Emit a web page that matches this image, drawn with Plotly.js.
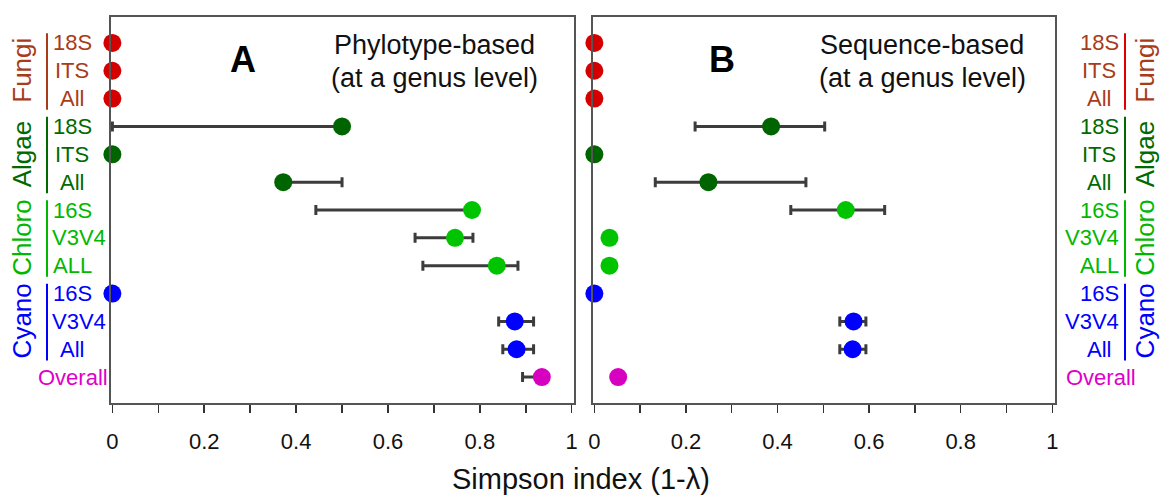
<!DOCTYPE html>
<html><head><meta charset="utf-8">
<script src="https://cdn.plot.ly/plotly-3.0.1.min.js"></script>
<style>html,body{margin:0;padding:0;background:#fff}</style>
</head><body><div id="chart" style="width:1161px;height:498px"></div>
<script>
// ---- data ----
const groups = ["Fungi", "Algae", "Chloro", "Cyano"];
const rowLabels = ["18S","ITS","All","18S","ITS","All","16S","V3V4","ALL","16S","V3V4","All","Overall"];
const rowGroups = ["Fungi","Fungi","Fungi","Algae","Algae","Algae","Chloro","Chloro","Chloro","Cyano","Cyano","Cyano","Overall"];
const rowIds = rowLabels.map((l, i) => rowGroups[i] + " " + l);

// Panel A: Phylotype-based
const valuesA   = [0, 0, 0, 0.50, 0, 0.372, 0.783, 0.746, 0.837, 0, 0.876, 0.880, 0.935];
const errMinusA = [0, 0, 0, 0.50, 0, 0,     0.340, 0.087, 0.161, 0, 0.035, 0.030, 0.042];
const errPlusA  = [0, 0, 0, 0,    0, 0.128, 0,     0.039, 0.046, 0, 0.041, 0.037, 0.013];

// Panel B: Sequence-based
const valuesB   = [0, 0, 0, 0.386, 0, 0.249, 0.549, 0.033, 0.033, 0, 0.566, 0.564, 0.052];
const errMinusB = [0, 0, 0, 0.166, 0, 0.116, 0.120, 0, 0, 0, 0.030, 0.028, 0];
const errPlusB  = [0, 0, 0, 0.117, 0, 0.213, 0.085, 0, 0, 0, 0.027, 0.029, 0];

const tickVals = [0, 0.1, 0.2, 0.3, 0.4, 0.5, 0.6, 0.7, 0.8, 0.9, 1];
const tickText = ["0", "", "0.2", "", "0.4", "", "0.6", "", "0.8", "", "1"];

const panelLetters = ["A", "B"];
const panelTitles = [["Phylotype-based", "(at a genus level)"], ["Sequence-based", "(at a genus level)"]];
const axisTitle = "Simpson index (1-λ)";

// ---- styles ----
const W = 1161, H = 498;
const markerColor = {Fungi: "#d40000", Algae: "#006400", Chloro: "#00c400", Cyano: "#0000ff", Overall: "#d800c0"};
const textColor   = {Fungi: "#a83c18", Algae: "#006a00", Chloro: "#00b800", Cyano: "#0000ff", Overall: "#e000c8"};
const lineLeft    = {Fungi: "#a83c18", Algae: "#006a00", Chloro: "#00b800", Cyano: "#0000ff"};
const lineRight   = {Fungi: "#e00000", Algae: "#006a00", Chloro: "#00b800", Cyano: "#0000ff"};
const FONT = "Liberation Sans, Arial, sans-serif";
const px = v => v / W;

function trace(vals, minus, plus, xa, ya) {
  return {
    type: "scatter", mode: "markers",
    x: vals, y: rowIds, xaxis: xa, yaxis: ya,
    cliponaxis: false,
    marker: {size: 18, color: rowGroups.map(g => markerColor[g])},
    error_x: {type: "data", symmetric: false, array: plus, arrayminus: minus,
              color: "#3c3c3c", thickness: 3, width: 5},
    hoverinfo: "x+y"
  };
}

const xCommon = {
  tickmode: "array", tickvals: tickVals, ticktext: tickText,
  ticks: "outside", ticklen: 8, tickwidth: 1.5, tickcolor: "#333",
  showline: true, mirror: true, linecolor: "#555", linewidth: 2,
  showgrid: false, zeroline: false, fixedrange: true,
  tickfont: {family: FONT, size: 22, color: "#111"},
  ticklabelstandoff: 10
};
const yCommon = {
  type: "category", categoryorder: "array", categoryarray: rowIds,
  range: [12.93, -0.93], domain: [1 - 403 / H, 1 - 17 / H],
  showticklabels: false, ticks: "", showgrid: false, zeroline: false,
  showline: true, mirror: true, linecolor: "#555", linewidth: 2, fixedrange: true
};

const annotations = [];
const shapes = [];

// panel letters and titles
const letterX = [243, 722];
const titleX = [434, 922];
panelLetters.forEach((L, i) => {
  annotations.push({text: "<b>" + L + "</b>", xref: "paper", yref: "paper", x: px(letterX[i]), y: 1 - 60 / H,
    xanchor: "center", yanchor: "middle", showarrow: false, font: {family: FONT, size: 36, color: "#000"}});
  panelTitles[i].forEach((t, j) => {
    annotations.push({text: t, xref: "paper", yref: "paper", x: px(titleX[i]), y: 1 - (45 + j * 33) / H,
      xanchor: "center", yanchor: "middle", showarrow: false, font: {family: FONT, size: 27, color: "#111"}});
  });
});

// axis title
annotations.push({text: axisTitle, xref: "paper", yref: "paper", x: px(581), y: 1 - 479 / H,
  xanchor: "center", yanchor: "middle", showarrow: false, font: {family: FONT, size: 29, color: "#111"}});

// row labels on both sides
rowIds.forEach((id, i) => {
  const g = rowGroups[i], lab = rowLabels[i];
  const col = textColor[g];
  let lx = 72, lanchor = "center", rx = 1099, ranchor = "center";
  if (lab === "V3V4") { lx = 50; lanchor = "left"; rx = 1121; ranchor = "right"; }
  if (lab === "Overall") { lx = 73; rx = 1101; }
  annotations.push({text: lab, xref: "paper", yref: "y", x: px(lx), y: id, xanchor: lanchor, yanchor: "middle",
    showarrow: false, font: {family: FONT, size: 22, color: col}});
  annotations.push({text: lab, xref: "paper", yref: "y", x: px(rx), y: id, xanchor: ranchor, yanchor: "middle",
    showarrow: false, font: {family: FONT, size: 22, color: col}});
});

// group labels and bracket lines
groups.forEach((g, k) => {
  const mid = rowIds[k * 3 + 1];
  [[22, lineLeft, 47], [1145, lineRight, 1125]].forEach(([tx, lc, lxp]) => {
    annotations.push({text: g, xref: "paper", yref: "y", x: px(tx), y: mid, textangle: -90,
      xanchor: "center", yanchor: "middle", showarrow: false, font: {family: FONT, size: 26, color: textColor[g]}});
    shapes.push({type: "line", xref: "paper", yref: "y", x0: px(lxp), x1: px(lxp), y0: k * 3 - 0.35, y1: k * 3 + 2.4,
      line: {color: lc[g], width: 2}});
  });
});

const layout = {
  width: W, height: H, margin: {l: 0, r: 0, t: 0, b: 0},
  paper_bgcolor: "#fff", plot_bgcolor: "#fff", showlegend: false,
  xaxis: Object.assign({}, xCommon, {domain: [px(111), px(574)], range: [-0.003, 1.005], anchor: "y"}),
  xaxis2: Object.assign({}, xCommon, {domain: [px(593), px(1055)], range: [-0.003, 1.006], anchor: "y2"}),
  yaxis: Object.assign({}, yCommon, {anchor: "x"}),
  yaxis2: Object.assign({}, yCommon, {anchor: "x2"}),
  annotations: annotations, shapes: shapes
};

Plotly.newPlot("chart", [trace(valuesA, errMinusA, errPlusA, "x", "y"), trace(valuesB, errMinusB, errPlusB, "x2", "y2")],
  layout, {displayModeBar: false, staticPlot: true});
</script></body></html>
